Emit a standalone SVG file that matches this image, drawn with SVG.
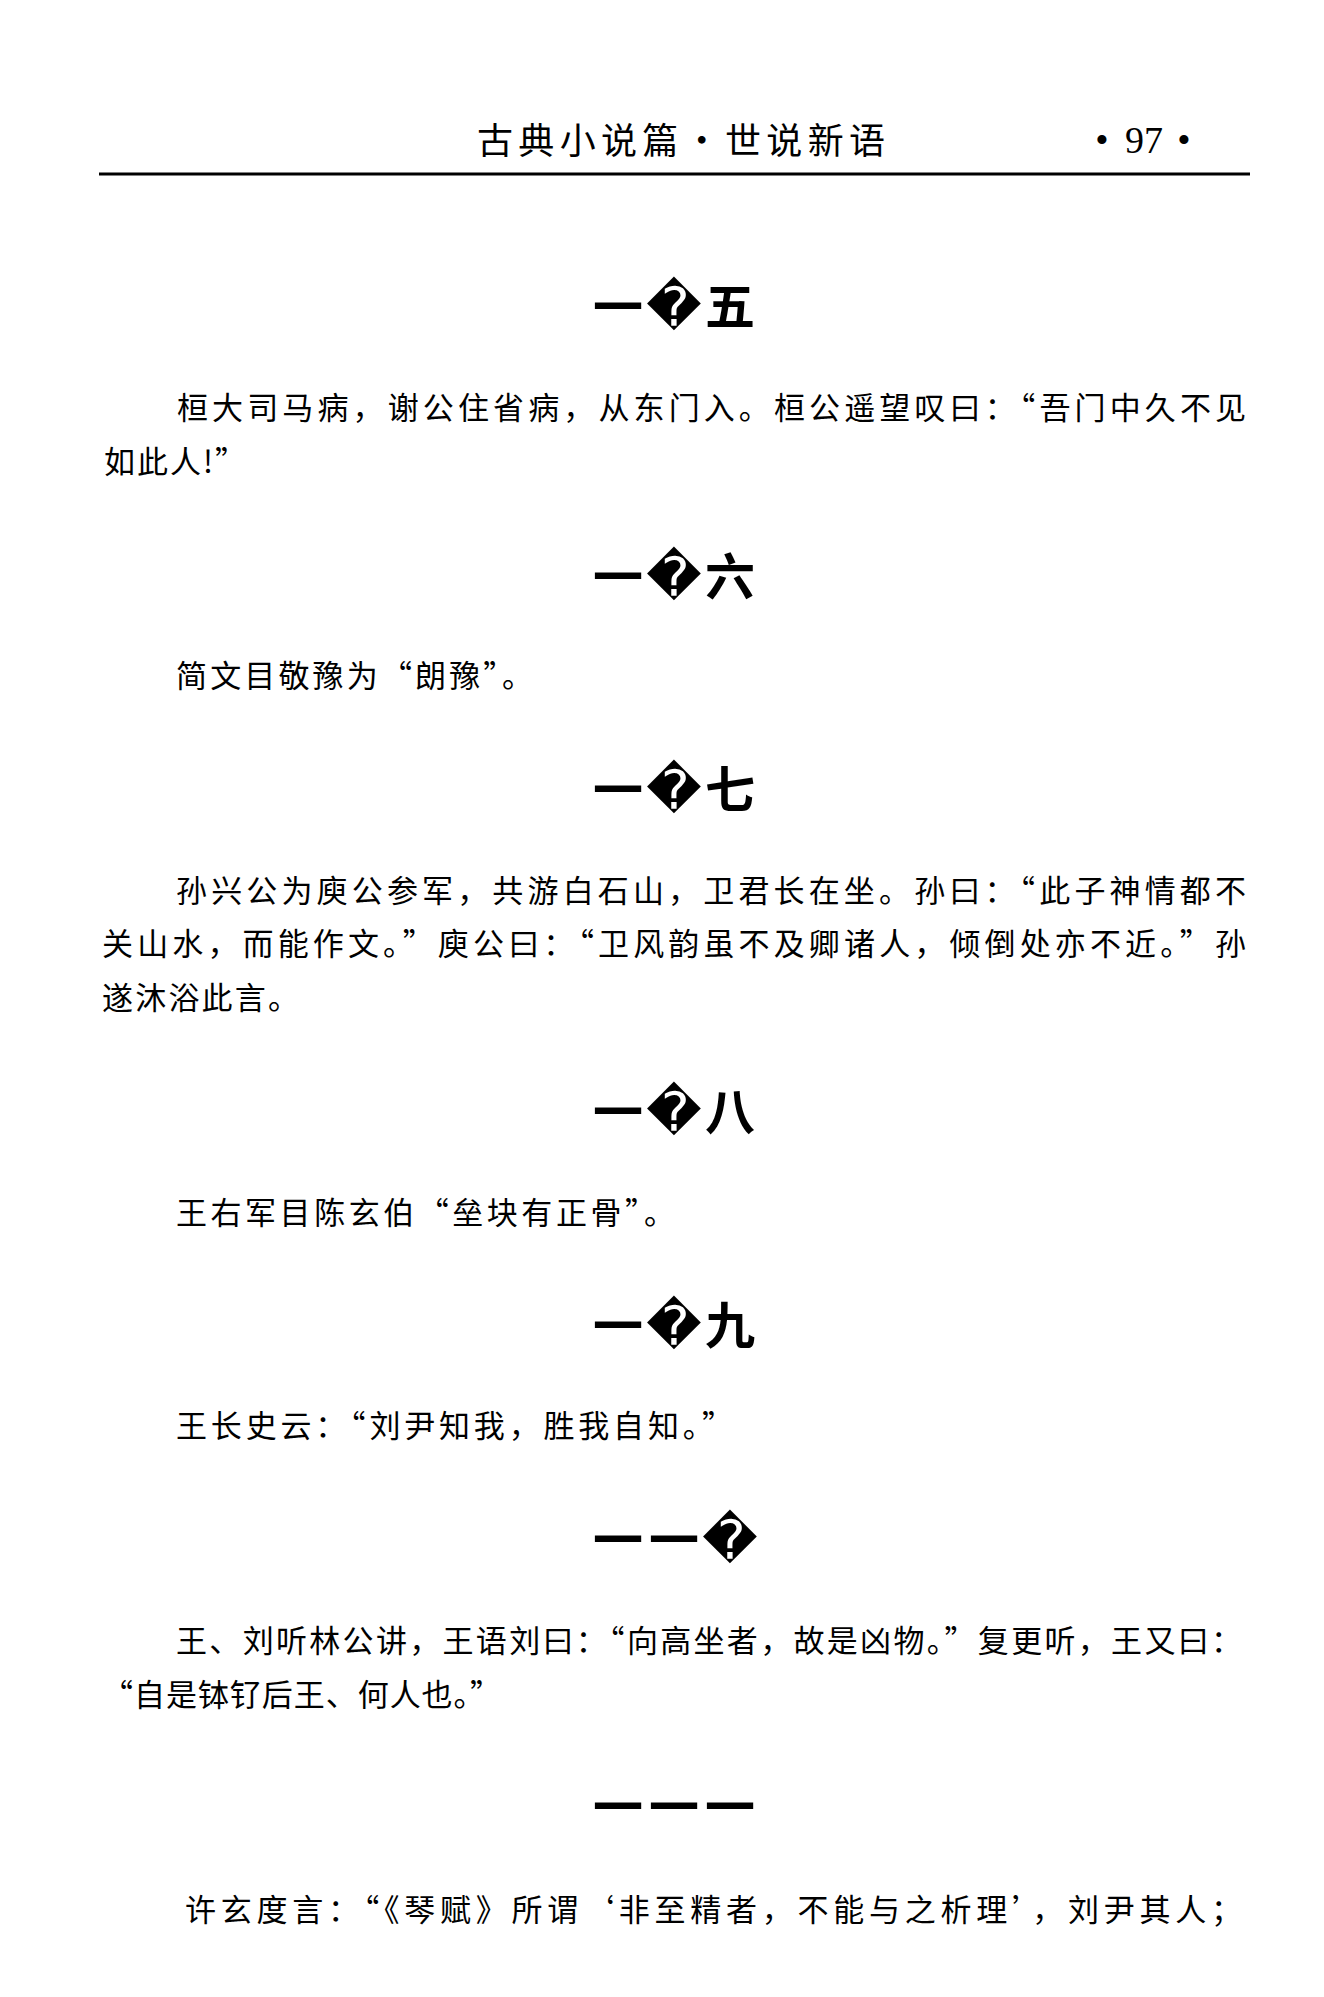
<svg xmlns="http://www.w3.org/2000/svg" width="1324" height="1997" viewBox="0 0 1324 1997">
<style>
.b{font-family:"Noto Sans CJK SC","Liberation Serif",sans-serif;font-size:31px;fill:#000;dominant-baseline:central}
.h{font-family:"Noto Sans CJK SC",sans-serif;font-size:50px;font-weight:700;fill:#000;text-anchor:middle;dominant-baseline:central}
.r{font-family:"DejaVu Sans",sans-serif;font-size:54px;font-weight:400;fill:#000;text-anchor:middle;dominant-baseline:central}
.hd{font-family:"Noto Sans CJK SC",sans-serif;font-size:36px;fill:#000;dominant-baseline:central}
.pn{font-family:"Liberation Serif",serif;font-size:38px;fill:#000;text-anchor:middle}
</style>
<rect width="1324" height="1997" fill="#fff"/>
<g id="header">
<text class="hd" x="477" y="138" textLength="408" lengthAdjust="spacing">古典小说篇·世说新语</text>
<text class="pn" y="153"><tspan x="1102">•</tspan><tspan x="1144">97</tspan><tspan x="1184">•</tspan></text>
<line x1="99" y1="174" x2="1250" y2="174" stroke="#000" stroke-width="3"/>
</g>
<g id="s105">
<text class="h" y="303"><tspan x="618">一</tspan><tspan x="730">五</tspan></text>
<text class="r" x="674" y="307">�</text>
<text class="b" x="177" y="405" textLength="1069" lengthAdjust="spacing">桓大司马病，谢公住省病，从东门入。桓公遥望叹曰：“吾门中久不见</text>
<text class="b" x="104" y="459" textLength="142" lengthAdjust="spacing">如此人!”</text>
</g>
<g id="s106">
<text class="h" y="573"><tspan x="618">一</tspan><tspan x="730">六</tspan></text>
<text class="r" x="674" y="577">�</text>
<text class="b" x="176" y="673" textLength="357" lengthAdjust="spacing">简文目敬豫为“朗豫”。</text>
</g>
<g id="s107">
<text class="h" y="786"><tspan x="618">一</tspan><tspan x="730">七</tspan></text>
<text class="r" x="674" y="790">�</text>
<text class="b" x="176" y="888" textLength="1070" lengthAdjust="spacing">孙兴公为庾公参军，共游白石山，卫君长在坐。孙曰：“此子神情都不</text>
<text class="b" x="102" y="941.5" textLength="1144" lengthAdjust="spacing">关山水，而能作文。”庾公曰：“卫风韵虽不及卿诸人，倾倒处亦不近。”孙</text>
<text class="b" x="102" y="995" textLength="197" lengthAdjust="spacing">遂沐浴此言。</text>
</g>
<g id="s108">
<text class="h" y="1108"><tspan x="618">一</tspan><tspan x="730">八</tspan></text>
<text class="r" x="674" y="1112">�</text>
<text class="b" x="176" y="1210" textLength="499" lengthAdjust="spacing">王右军目陈玄伯“垒块有正骨”。</text>
</g>
<g id="s109">
<text class="h" y="1322"><tspan x="618">一</tspan><tspan x="730">九</tspan></text>
<text class="r" x="674" y="1326">�</text>
<text class="b" x="176" y="1423" textLength="557" lengthAdjust="spacing">王长史云：“刘尹知我，胜我自知。”</text>
</g>
<g id="s110">
<text class="h" y="1536"><tspan x="618">一</tspan><tspan x="674">一</tspan></text>
<text class="r" x="730" y="1540">�</text>
<text class="b" x="176" y="1638" textLength="1066" lengthAdjust="spacing">王、刘听林公讲，王语刘曰：“向高坐者，故是凶物。”复更听，王又曰：</text>
<text class="b" x="102" y="1692" textLength="399" lengthAdjust="spacing">“自是钵钌后王、何人也。”</text>
</g>
<g id="s111">
<text class="h" y="1803"><tspan x="618">一</tspan><tspan x="674">一</tspan><tspan x="730">一</tspan></text>
<text class="b" x="185" y="1907" textLength="1057" lengthAdjust="spacing">许玄度言：“《琴赋》所谓‘非至精者，不能与之析理’，刘尹其人；</text>
</g>
</svg>
